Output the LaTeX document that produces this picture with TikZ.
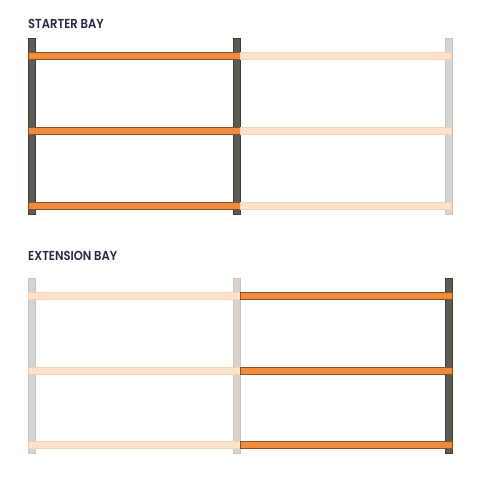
\documentclass[tikz,border=0pt]{standalone}
\usepackage{fontspec}
\usepackage{graphicx}
\setmainfont{Poppins}[BoldFont={* SemiBold}]
\definecolor{postdark}{HTML}{5F5B55}
\definecolor{postdarkedge}{HTML}{3F3C38}
\definecolor{postlight}{HTML}{D9D3D0}
\definecolor{postlightedge}{HTML}{CBC4C1}
\definecolor{beamor}{HTML}{F08A3C}
\definecolor{beamoredge}{HTML}{8A4F25}
\definecolor{beamlt}{HTML}{FDE3CC}
\definecolor{beamltedge}{HTML}{F3D2B6}
\definecolor{titlecol}{HTML}{2B2545}
\newcommand{\ttltext}[1]{\scalebox{0.89}[1]{#1}}
\tikzset{
  postD/.style={fill=postdark,draw=postdarkedge,line width=0.6pt},
  postL/.style={fill=postlight,draw=postlightedge,line width=0.6pt},
  beamO/.style={fill=beamor,draw=beamoredge,line width=0.6pt},
  beamL/.style={fill=beamlt,draw=beamltedge,line width=0.6pt},
  ttl/.style={anchor=base west,inner sep=0pt,text=titlecol,font=\bfseries\fontsize{13}{15}\selectfont}
}
\begin{document}
\begin{tikzpicture}[x=1pt,y=-1pt]
\useasboundingbox (0,0) rectangle (480,479);
% STARTER BAY
\node[ttl] (t1) at (28,28.3) {\ttltext{STARTER BAY}};
\draw[postD] (28,38.5) rectangle (35,214);
\draw[postD] (233,38.5) rectangle (240,214);
\draw[postL] (445,38.5) rectangle (452,214);
\foreach \y in {52.5,127.5,202} {
  \draw[beamO] (28,\y) rectangle (240,\y+7);
  \draw[beamL] (240,\y) rectangle (451.5,\y+7);
}
% EXTENSION BAY
\node[ttl] (t2) at (28,260.7) {\ttltext{EXTENSION BAY}};
\draw[postL] (28,278) rectangle (35,453);
\draw[postL] (233,278) rectangle (240,453);
\draw[postD] (445,278) rectangle (452,453);
\foreach \y in {292,367,441} {
  \draw[beamL] (28,\y) rectangle (240,\y+7);
  \draw[beamO] (240,\y) rectangle (452,\y+7);
}
\end{tikzpicture}
\end{document}
